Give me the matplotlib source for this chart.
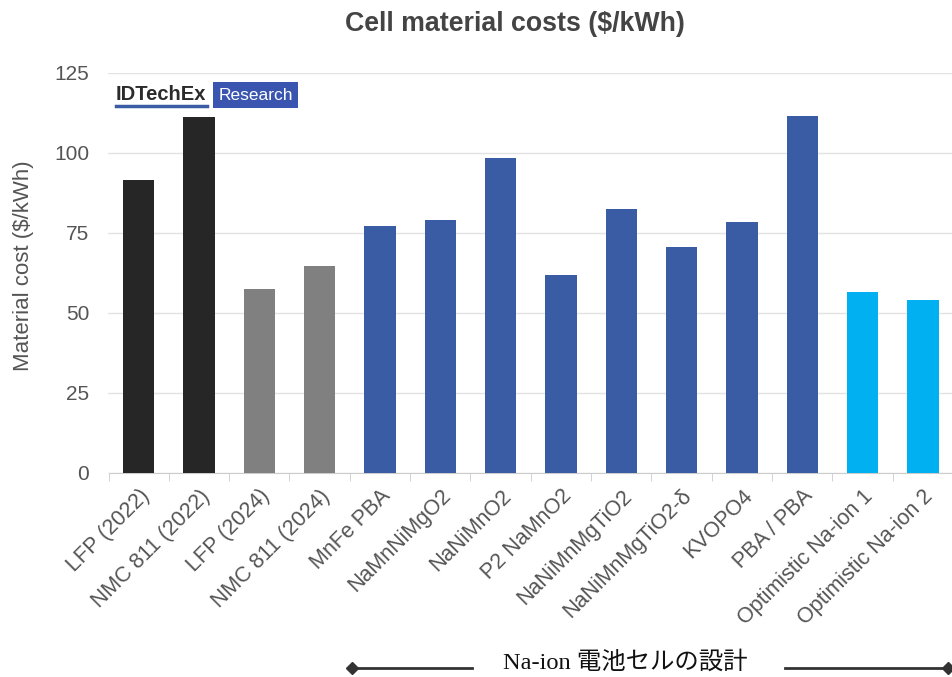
import matplotlib
matplotlib.use("Agg")
import matplotlib.pyplot as plt
from matplotlib.patches import Rectangle
from matplotlib.lines import Line2D

categories = ["LFP (2022)", "NMC 811 (2022)", "LFP (2024)", "NMC 811 (2024)",
              "MnFe PBA", "NaMnNiMgO2", "NaNiMnO2", "P2 NaMnO2", "NaNiMnMgTiO2",
              "NaNiMnMgTiO2-δ", "KVOPO4", "PBA / PBA",
              "Optimistic Na-ion 1", "Optimistic Na-ion 2"]
costs = [91.5, 111.2, 57.5, 64.7, 77.3, 79.0, 98.4, 61.8, 82.5,
         70.6, 78.4, 111.6, 56.5, 54.1]
groups = ["li2022", "li2022", "li2024", "li2024"] + ["na"] * 8 + ["opt", "opt"]
group_colors = {"li2022": "#262626", "li2024": "#808080",
                "na": "#3a5ca4", "opt": "#00b0f0"}
yticks = [0, 25, 50, 75, 100, 125]

W, H = 953, 677
fig = plt.figure(figsize=(W / 100, H / 100), dpi=100)
plt.rcParams["font.family"] = ["Liberation Sans", "DejaVu Sans"]

ax = fig.add_axes([108.5 / W, 1 - 473 / H, 1 - 108.5 / W, 400 / H])
x = list(range(len(categories)))
ax.bar(x, costs, width=0.52, color=[group_colors[g] for g in groups], zorder=3)

ax.set_ylim(0, 125)
ax.set_xlim(-0.5, 13.38)
ax.set_yticks(yticks)
ax.set_yticklabels([str(v) for v in yticks], fontsize=15, color="#555555")
ax.tick_params(axis="y", length=0, pad=14)
ax.grid(axis="y", color="#e3e3e3", linewidth=1, zorder=0)
for s in ["top", "right", "left"]:
    ax.spines[s].set_visible(False)
ax.spines["bottom"].set_color("#cccccc")

ax.set_xticks(x)
ax.set_xticklabels(categories, rotation=45, ha="right", rotation_mode="anchor",
                   fontsize=15.5, color="#555555")
ax.tick_params(axis="x", which="major", length=0, pad=9)
ax.set_xticks([i - 0.5 for i in range(len(categories) + 1)], minor=True)
ax.tick_params(axis="x", which="minor", length=6, color="#cccccc")

ax.set_ylabel("Material cost ($/kWh)", fontsize=16, color="#555555")
ax.yaxis.set_label_coords(-0.088, 0.5175)

fig.text(515 / W, 1 - 24 / H, "Cell material costs ($/kWh)", ha="center", va="center",
         fontsize=19.3, fontweight="bold", color="#444444")

# brand mark in the upper-left of the plot
fig.text(116 / W, 1 - 95 / H, "IDTechEx", ha="left", va="center",
         fontsize=14.5, fontweight="bold", color="#2b2b2b")
fig.add_artist(Line2D([116 / W, 207 / W], [1 - 106 / H, 1 - 106 / H],
                      color="#3a5ca4", linewidth=2.5))
fig.add_artist(Rectangle((213 / W, 1 - 108 / H), 85 / W, 26 / H,
                         facecolor="#3a55b0", edgecolor="none"))
fig.text(255.5 / W, 1 - 95 / H, "Research", ha="center", va="center",
         fontsize=12.5, color="white")

# footer band with group annotation
fig.add_artist(Rectangle((0, 0), 1, 1 - 628 / H, facecolor="white",
                         edgecolor="none", zorder=10))
fig.text(625 / W, 1 - 662 / H, "Na-ion 電池セルの設計", ha="center", va="center",
         fontsize=17.6, color="#111111", zorder=11,
         family=["Liberation Serif", "Noto Sans CJK JP"])
ly = 1 - 668 / H
fig.add_artist(Line2D([352 / W, 472 / W], [ly, ly], color="#333333", linewidth=2,
                      marker="D", markersize=6, markevery=[0], zorder=11))
fig.add_artist(Line2D([785 / W, 948 / W], [ly, ly], color="#333333", linewidth=2,
                      marker="D", markersize=6, markevery=[1], zorder=11))

fig.savefig("out.png", dpi=100)
